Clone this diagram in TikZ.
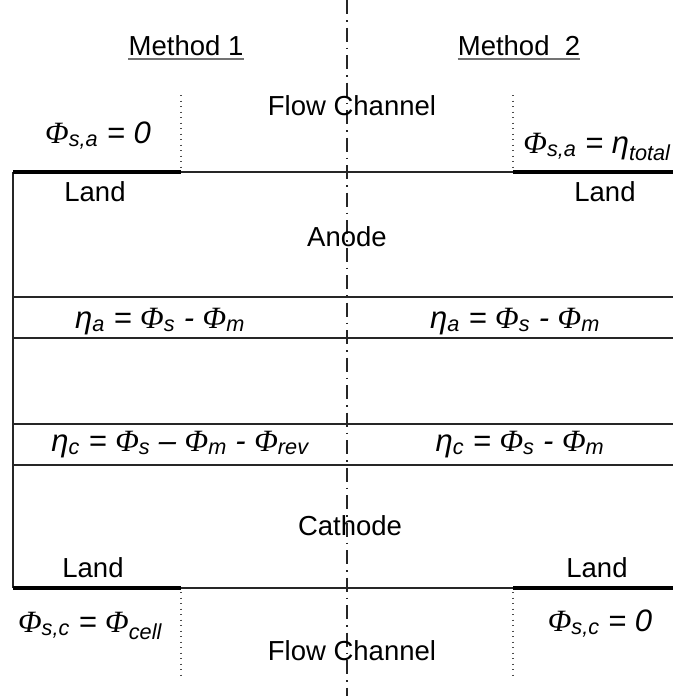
\documentclass[tikz,border=0pt]{standalone}
\usepackage{fontspec}
\usetikzlibrary{calc}
\setmainfont{Liberation Sans}
\newfontfamily\phifont{Liberation Serif}
\newcommand\sbs[1]{\textsubscript{#1}}
\newcommand\Ph{{\phifont\itshape Φ}}
\begin{document}
\begin{tikzpicture}[x=1pt,y=-1pt,
  lbl/.style={anchor=base, inner sep=0pt, font=\fontsize{27.5}{32}\selectfont},
  eqn/.style={anchor=base, inner sep=0pt, font=\fontsize{31}{36}\selectfont\itshape},
  thin/.style={line width=1.3pt, draw=black!85},
  thick/.style={line width=3.8pt, draw=black},
  dots/.style={line width=1.2pt, draw=black!70, dash pattern=on 1.2pt off 4.3pt},
  uline/.style={line width=1.3pt, draw=black!55},
  axis/.style={line width=1.3pt, draw=black!85, dash pattern=on 14pt off 6pt on 1.5pt off 6pt}]
\useasboundingbox (0,0) rectangle (673,696);
% centre line
\draw[axis] (347,0) -- (347,696);
% frame lines
\draw[thin] (13,172) -- (13,588);
\foreach \y in {172,297,338,424,465,588} \draw[thin] (13,\y) -- (673,\y);
\draw[thick] (13,172) -- (181,172);
\draw[thick] (513,172) -- (673,172);
\draw[thick] (13,588) -- (181,588);
\draw[thick] (513,588) -- (673,588);
% dotted lines
\draw[dots] (181,95) -- (181,168);
\draw[dots] (513,95) -- (513,168);
\draw[dots] (181,592) -- (181,676);
\draw[dots] (513,592) -- (513,676);
% labels
\node[lbl] (m1) at (186,55) {Method 1};
\node[lbl] (m2) at (519,55) {Method\ \ 2};
\draw[uline] ($(m1.base west)+(0,4)$) -- ($(m1.base east)+(0,4)$);
\draw[uline] ($(m2.base west)+(0,4)$) -- ($(m2.base east)+(0,4)$);
\node[lbl] (fct) at (352,115) {Flow Channel};
\node[lbl] (fcb) at (352,660) {Flow Channel};
\node[lbl] (l1) at (95,201) {Land};
\node[lbl] (l2) at (605,201) {Land};
\node[lbl] (l3) at (93,577) {Land};
\node[lbl] (l4) at (597,577) {Land};
\node[lbl] (an) at (347,246) {Anode};
\node[lbl] (ca) at (350,535) {Cathode};
% equations
\node[eqn] (e1) at (98,143) {\Ph\sbs{s,a} = 0};
\node[eqn] (e2) at (597,153) {\Ph\sbs{s,a} = η\sbs{total}};
\node[eqn] (e3) at (160,328) {η\sbs{a} = \Ph\sbs{s} - \Ph\sbs{m}};
\node[eqn] (e4) at (515,328) {η\sbs{a} = \Ph\sbs{s} - \Ph\sbs{m}};
\node[eqn] (e5) at (180,451) {η\sbs{c} = \Ph\sbs{s} – \Ph\sbs{m} - \Ph\sbs{rev}};
\node[eqn] (e6) at (520,451) {η\sbs{c} = \Ph\sbs{s} - \Ph\sbs{m}};
\node[eqn] (e7) at (90,632) {\Ph\sbs{s,c} = \Ph\sbs{cell}};
\node[eqn] (e8) at (600,631) {\Ph\sbs{s,c} = 0};
\end{tikzpicture}
\end{document}
